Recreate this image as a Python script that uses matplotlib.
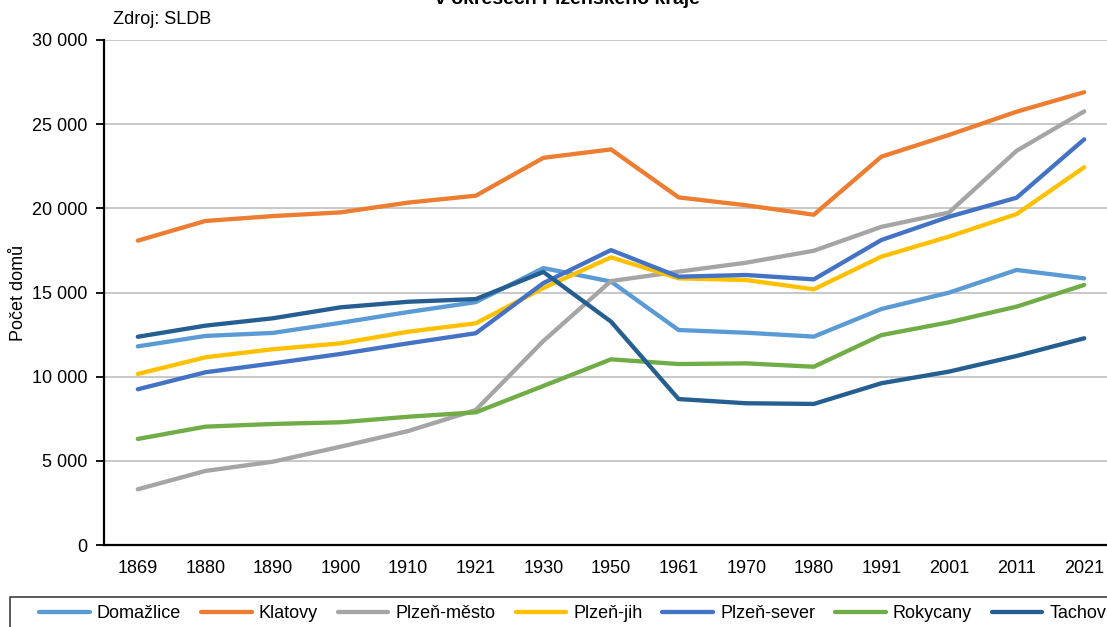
import matplotlib
matplotlib.use("Agg")
import matplotlib.pyplot as plt
from matplotlib.patches import Rectangle
from matplotlib.ticker import FuncFormatter

# data
roky = ["1869", "1880", "1890", "1900", "1910", "1921", "1930", "1950",
        "1961", "1970", "1980", "1991", "2001", "2011", "2021"]
domazlice = [11800, 12420, 12600, 13200, 13840, 14430, 16450, 15650,
             12770, 12610, 12380, 14020, 14990, 16340, 15840]
klatovy = [18080, 19250, 19540, 19760, 20340, 20750, 23000, 23500,
           20650, 20180, 19620, 23070, 24360, 25740, 26900]
plzen_mesto = [3310, 4400, 4950, 5840, 6770, 8020, 12120, 15680,
               16240, 16770, 17480, 18900, 19750, 23420, 25760]
plzen_jih = [10160, 11150, 11630, 11980, 12670, 13170, 15270, 17090,
             15840, 15740, 15190, 17130, 18320, 19660, 22440]
plzen_sever = [9250, 10260, 10790, 11350, 11980, 12580, 15560, 17520,
               15940, 16040, 15780, 18120, 19500, 20630, 24100]
rokycany = [6300, 7030, 7190, 7290, 7620, 7880, 9450, 11030,
            10750, 10790, 10590, 12470, 13230, 14160, 15450]
tachov = [12370, 13030, 13470, 14120, 14450, 14610, 16220, 13270,
          8670, 8420, 8380, 9610, 10300, 11230, 12280]

nazvy = ["Domažlice", "Klatovy", "Plzeň-město", "Plzeň-jih", "Plzeň-sever", "Rokycany", "Tachov"]
barvy = ["#5B9BD5", "#ED7D31", "#A5A5A5", "#FFC000", "#4472C4", "#70AD47", "#255E91"]
serie = [domazlice, klatovy, plzen_mesto, plzen_jih, plzen_sever, rokycany, tachov]

plt.rcParams['font.family'] = ['Liberation Sans', 'DejaVu Sans']

W, H = 1107, 627
fig = plt.figure(figsize=(W / 100, H / 100), dpi=100)
ax = fig.add_axes([104 / W, (H - 545) / H, 1014 / W, 505 / H])

x = list(range(len(roky)))
for data, nazev, barva in zip(serie, nazvy, barvy):
    ax.plot(x, data, color=barva, linewidth=3.1, label=nazev, solid_capstyle='round')

ax.set_xlim(-0.5, len(roky) - 0.5)
ax.set_ylim(0, 30000)
ax.set_yticks(range(0, 30001, 5000))
ax.yaxis.set_major_formatter(FuncFormatter(lambda v, p: f"{int(v):,}".replace(",", " ")))
ax.set_xticks(x)
ax.set_xticklabels(roky)
ax.tick_params(axis='x', length=0, labelsize=13, pad=11)
ax.tick_params(axis='y', length=6, width=1.3, labelsize=13, pad=6)
ax.grid(axis='y', color='#BFBFBF', linewidth=1.2)
ax.set_axisbelow(True)
for s in ['top', 'right']:
    ax.spines[s].set_visible(False)
for s in ['left', 'bottom']:
    ax.spines[s].set_linewidth(1.6)
ax.set_ylabel("Počet domů", fontsize=13)
ax.yaxis.set_label_coords(-77 / 1014, 0.5)

fig.text(113 / W, 1 - 20 / H, "Zdroj: SLDB", fontsize=13, va='center', ha='left')
fig.text(567 / W, 1 - 4 / H, "v okresech Plzeňského kraje", fontsize=14, fontweight='bold',
         ha='center', va='baseline')

# legenda
fig.patches.append(Rectangle((10 / W, -0.01), 1.2, (627 - 597) / H + 0.01, transform=fig.transFigure,
                             fill=False, edgecolor='#404040', linewidth=1.2))
fig.legend(loc='center left', bbox_to_anchor=(32 / W, 1 - 614 / H), ncol=7, frameon=False,
           fontsize=13, handlelength=2.8, handletextpad=0.4, columnspacing=1.1, borderaxespad=0)

plt.savefig("out.png", dpi=100)
